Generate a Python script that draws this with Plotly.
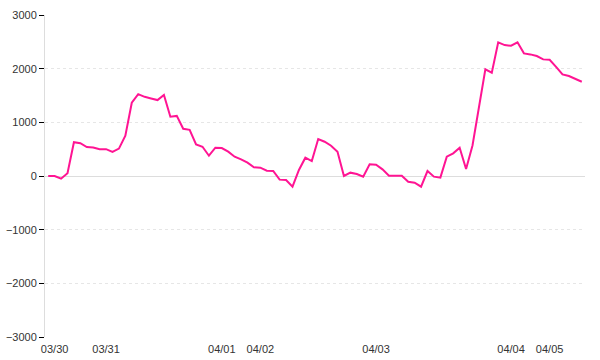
import plotly.graph_objects as go

values = [0, 0, -50, 50, 630, 610, 540, 530, 500, 500,
          450, 510, 750, 1365, 1525, 1475, 1445, 1415, 1510, 1105,
          1120, 880, 860, 590, 545, 378, 527, 521, 453, 360,
          310, 248, 162, 155, 99, 93, -68, -75, -200, 112,
          341, 279, 689, 639, 564, 453, 0, 62, 37, -12,
          218, 210, 124, 6, 6, 6, -106, -124, -199, 93,
          -12, -31, 360, 422, 527, 130, 570, 1291, 1987, 1924,
          2490, 2440, 2427, 2490, 2285, 2266, 2235, 2173, 2166, 2035,
          1894, 1862, 1806, 1756]
tick_positions = [1, 9, 27, 33, 51, 72, 78]
tick_labels = ["03/30", "03/31", "04/01", "04/02", "04/03", "04/04", "04/05"]
y_ticks = [-3000, -2000, -1000, 0, 1000, 2000, 3000]

x = list(range(len(values)))

fig = go.Figure()
fig.add_trace(go.Scatter(x=x, y=values, mode="lines",
                         line=dict(color="#ff1493", width=2),
                         hoverinfo="skip"))

fig.update_layout(
    width=600, height=360,
    margin=dict(l=45, r=15, t=15, b=23, autoexpand=False),
    paper_bgcolor="white", plot_bgcolor="white",
    showlegend=False,
    font=dict(family="Liberation Sans, Arial, sans-serif", size=11, color="#333"),
)
fig.update_xaxes(
    range=[-0.5, len(values) - 0.5],
    tickmode="array", tickvals=tick_positions, ticktext=tick_labels,
    showgrid=False, zeroline=False, showline=False,
    ticks="outside", ticklen=2, tickcolor="rgba(0,0,0,0)",
    tickfont=dict(size=11, color="#333"),
    automargin=False,
)
fig.update_yaxes(
    range=[-3000, 3000],
    tickmode="array", tickvals=y_ticks,
    showgrid=True, gridcolor="#e6e6e6", griddash="dot", gridwidth=1,
    zeroline=True, zerolinecolor="#dddddd", zerolinewidth=1,
    showline=True, linecolor="#dddddd", linewidth=1,
    ticks="outside", ticklen=5, tickcolor="#000", tickwidth=1,
    tickfont=dict(size=11, color="#333"),
    automargin=False,
)

fig.write_html("out.html")
